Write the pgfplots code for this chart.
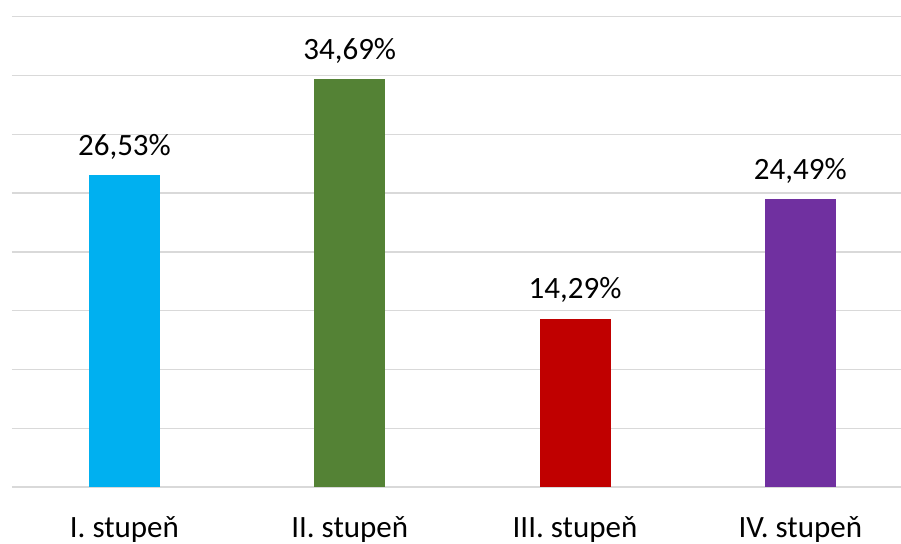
\documentclass[border=0pt]{standalone}
\usepackage{fontspec}
\setmainfont{Carlito}
\usepackage{pgfplots}
\pgfplotsset{compat=1.18}

\definecolor{barblue}{HTML}{00B0F0}
\definecolor{bargreen}{HTML}{548235}
\definecolor{barred}{HTML}{C00000}
\definecolor{barpurple}{HTML}{7030A0}
\definecolor{gridgray}{HTML}{D9D9D9}

\begin{document}
\fontsize{31}{37}\selectfont
\begin{tikzpicture}
\begin{axis}[
  scale only axis,
  width=889.2pt, height=470.3pt,
  xmin=-0.5, xmax=3.447,
  ymin=0, ymax=40,
  ytick={0,5,...,40},
  yticklabels={},
  ymajorgrids,
  grid style={draw=gridgray, line width=1.4pt},
  axis line style={draw=none},
  major tick length=0pt,
  xtick={0,1,2,3},
  xticklabels={I. stupeň, II. stupeň, III. stupeň, IV. stupeň},
  xticklabel style={anchor=base, yshift=-50pt, inner sep=0pt},
  ybar,
  bar width=71pt,
  /pgf/number format/assume math mode=true,
  nodes near coords={\pgfmathprintnumber[fixed,precision=2,fixed zerofill,use comma]{\pgfplotspointmeta}\%},
  nodes near coords style={anchor=base, yshift=20pt, inner sep=0pt, font=\fontsize{31}{37}\selectfont},
  tick label style={font=\fontsize{31}{37}\selectfont},
]
\addplot[fill=barblue, draw=none, bar shift=0pt] coordinates {(0,26.53)};
\addplot[fill=bargreen, draw=none, bar shift=0pt] coordinates {(1,34.69)};
\addplot[fill=barred, draw=none, bar shift=0pt] coordinates {(2,14.29)};
\addplot[fill=barpurple, draw=none, bar shift=0pt] coordinates {(3,24.49)};
\end{axis}
\pgfresetboundingbox
\path (current axis.south west) ++(-11.8pt,-56pt) rectangle ++(901pt,543pt);
\end{tikzpicture}
\end{document}
